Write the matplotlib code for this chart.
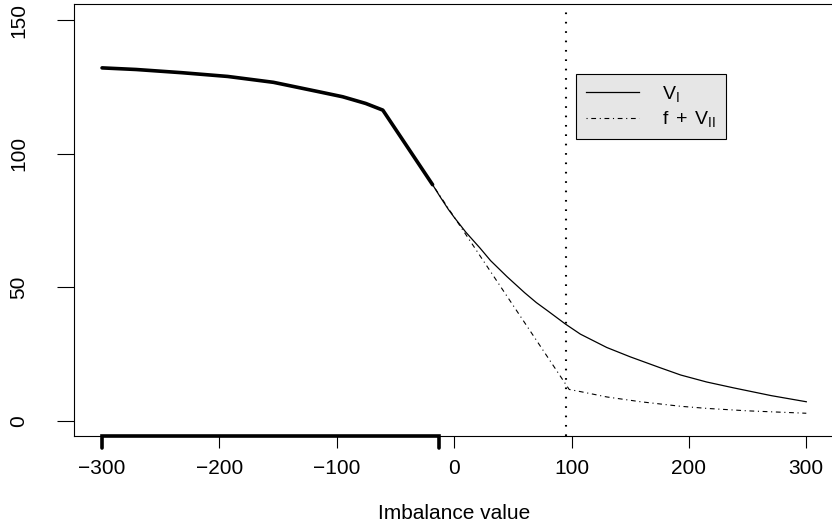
import matplotlib
matplotlib.use('Agg')
import matplotlib.pyplot as plt
from matplotlib.transforms import blended_transform_factory

# thick part of V_I (the "chosen" region)
thick_x = [-300, -271, -232, -193, -154, -114.5, -95, -75.4, -60.8, -18.4]
thick_y = [132.1, 131.5, 130.3, 128.9, 126.7, 123.1, 121.3, 118.8, 116.3, 88.4]

# thin V_I curve
vi_x = [-18.4, -12, -5, 0, 10, 22, 31, 45, 53.5, 60, 70, 80, 95, 107.5, 130, 150,
        175, 193, 215, 238, 270, 300]
vi_y = [88.4, 83.9, 79.2, 76.2, 70.6, 64.7, 60.0, 54.0, 50.6, 48.0, 44.3, 41.1,
        36.2, 32.5, 27.5, 24.0, 20.0, 17.2, 14.6, 12.4, 9.5, 7.2]

# f + V_II curve
fv_x = [-18.4, 98, 107.5, 130, 158.8, 193, 215.7, 250, 300]
fv_y = [88.4, 11.8, 11.0, 9.0, 7.2, 5.5, 4.7, 3.8, 2.9]

vline_x = 95
rug_range = [-300, -13]
xticks = [-300, -200, -100, 0, 100, 200, 300]
yticks = [0, 50, 100, 150]

plt.rcParams['font.family'] = ['Liberation Sans', 'DejaVu Sans']
plt.rcParams['mathtext.fontset'] = 'custom'
plt.rcParams['mathtext.rm'] = 'Liberation Sans'
plt.rcParams['mathtext.it'] = 'Liberation Sans'

W, H = 832, 529
fig = plt.figure(figsize=(W / 100, H / 100), dpi=100)
ax_w, ax_h = 759.3, 431.7
ax = fig.add_axes([74 / W, (H - 435.7) / H, ax_w / W, ax_h / H])

ax.plot(thick_x, thick_y, color='black', lw=2.6, solid_capstyle='round',
        solid_joinstyle='round')
ax.plot(vi_x, vi_y, color='black', lw=0.9, label=r'$\mathrm{V}_{\mathrm{I}}$')
ax.plot(fv_x, fv_y, color='black', lw=0.8, dashes=(1, 3.3, 4.3, 3.3),
        label=r'$\mathrm{f}\;+\;\mathrm{V}_{\mathrm{II}}$')
ax.axvline(vline_x, color='black', lw=1.5, dashes=(0.8, 3.7))

ax.set_xlim(-323.9, 323.0)
ax.set_ylim(-5.5, 156.0)

# thick rug on the x axis
tr = blended_transform_factory(ax.transData, ax.transAxes)
tk = 12 / ax_h
ax.plot([rug_range[0], rug_range[0], rug_range[1], rug_range[1]], [-tk, 0, 0, -tk],
        transform=tr, clip_on=False, color='black', lw=2.6, solid_joinstyle='miter',
        solid_capstyle='round')

ax.set_xticks(xticks)
ax.set_yticks(yticks)
ax.tick_params(axis='x', direction='out', length=8.6, width=0.8, pad=8, labelsize=15)
ax.tick_params(axis='y', direction='out', length=12.2, width=0.8, pad=21, labelsize=15)
for lab in ax.get_yticklabels():
    lab.set_rotation(90)
    lab.set_va('center')
for s in ax.spines.values():
    s.set_linewidth(0.8)

ax.set_xlabel('Imbalance value', fontsize=15, labelpad=19)

leg = ax.legend(loc='upper left', bbox_to_anchor=(0.661, 0.838), borderaxespad=0,
                fancybox=False, facecolor='#e6e6e6', edgecolor='black', framealpha=1,
                fontsize=14, handlelength=2.75, handletextpad=1.2, labelspacing=0.3,
                borderpad=0.5)
leg.get_frame().set_linewidth(0.8)

fig.savefig('out.png', dpi=100)
